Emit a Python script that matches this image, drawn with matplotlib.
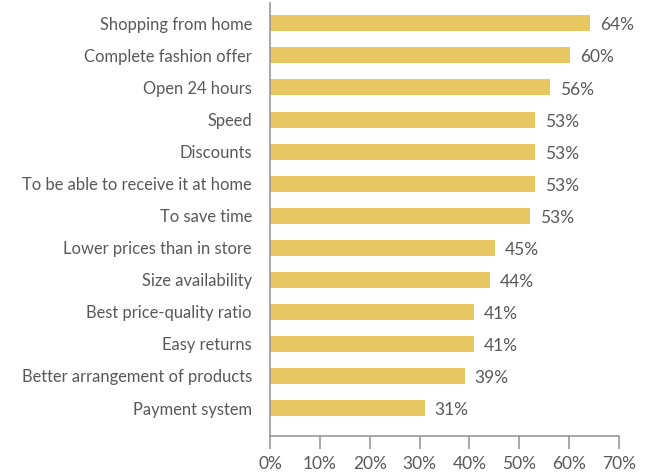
import matplotlib.pyplot as plt
import numpy as np

plt.rcParams['font.family'] = ['Lato', 'DejaVu Sans']

reasons = ['Shopping from home', 'Complete fashion offer', 'Open 24 hours', 'Speed',
           'Discounts', 'To be able to receive it at home', 'To save time',
           'Lower prices than in store', 'Size availability', 'Best price-quality ratio',
           'Easy returns', 'Better arrangement of products', 'Payment system']
share = [64.2, 60.2, 56.2, 53.2, 53.2, 53.2, 52.2, 45.2, 44.2, 41.0, 41.0, 39.1, 31.1]
shown = [64, 60, 56, 53, 53, 53, 53, 45, 44, 41, 41, 39, 31]

bar_col = '#E8C762'
txt_col = '#595959'
axis_col = '#999999'

fig = plt.figure(figsize=(6.46, 4.74), dpi=100)
ax = fig.add_axes([0.418, 0.080, 0.540, 0.913])

y = np.arange(len(reasons))
ax.barh(y, share, height=0.5, color=bar_col)

for i in range(len(reasons)):
    ax.annotate(f'{shown[i]}%', (share[i], y[i]), xytext=(7, -1.5), textcoords='offset points',
                va='center', ha='left', fontsize=12.5, color=txt_col)

ax.set_xlim(0, 70)
ax.set_ylim(12.875, -0.625)
ax.set_xticks(range(0, 71, 10))
ax.set_xticklabels([f'{v}%' for v in range(0, 71, 10)])
ax.set_yticks(y)
ax.set_yticklabels(reasons)
for lab in ax.get_yticklabels():
    lab.set_va('center_baseline')

for s in ['top', 'right']:
    ax.spines[s].set_visible(False)
ax.spines['left'].set_color(axis_col)
ax.spines['bottom'].set_color(axis_col)
ax.spines['left'].set_linewidth(1.2)
ax.spines['bottom'].set_linewidth(1.2)

ax.tick_params(axis='x', length=9.5, width=1.2, color=axis_col, pad=5,
               labelsize=12.5, labelcolor=txt_col)
ax.tick_params(axis='y', length=0, pad=13, labelsize=11.9, labelcolor=txt_col)

fig.savefig('out.png', dpi=100)
